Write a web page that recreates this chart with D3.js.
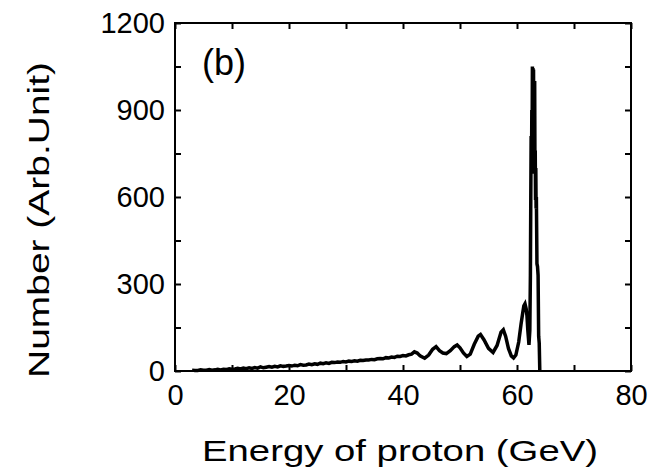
<!DOCTYPE html>
<html>
<head>
<meta charset="utf-8">
<script src="https://cdn.jsdelivr.net/npm/d3@7"></script>
<style>
  html, body { margin: 0; padding: 0; background: #fff; }
  svg { display: block; }
  text { font-family: "Liberation Sans", Arial, Helvetica, sans-serif; fill: #000; }
</style>
</head>
<body>
<svg id="chart" width="652" height="475"></svg>
<script>
// Proton energy spectrum, panel (b)
const energy = [
  3, 3.5, 4, 4.5, 5, 5.5, 6, 6.5, 7, 7.5, 8, 8.5, 9, 9.5, 10, 10.5, 11, 11.5,
  12, 12.5, 13, 13.5, 14, 14.5, 15, 15.5, 16, 16.5, 17, 17.5, 18, 18.5, 19, 19.5,
  20, 20.5, 21, 21.5, 22, 22.5, 23, 23.5, 24, 24.5, 25, 25.5, 26, 26.5, 27, 27.5,
  28, 28.5, 29, 29.5, 30, 30.5, 31, 31.5, 32, 32.5, 33, 33.5, 34, 34.5, 35, 35.5,
  36, 36.5, 37, 37.5, 38, 38.5, 39, 39.5, 40, 40.5, 41, 41.5,
  42, 42.5, 43, 43.8, 44.5, 45.2, 45.8, 46.4, 47, 47.6, 48.3, 49, 49.5, 50,
  50.6, 51.2, 51.8, 52.5, 53.2, 53.6, 54.2, 55, 55.8, 56.5, 57.2, 57.6, 58,
  58.5, 59, 59.4, 59.8, 60.3, 60.7, 61, 61.2, 61.4, 61.6, 61.75, 61.9, 62.1, 62.25,
  62.35, 62.42, 62.48, 62.55, 62.6, 62.65, 62.7, 62.75, 62.8, 62.85, 62.9, 62.95,
  63.0, 63.05, 63.1, 63.15, 63.2, 63.25, 63.3, 63.35, 63.4, 63.5, 63.6, 63.7,
  63.8, 63.9, 64.0
];
const counts = [
  3, 2, 2, 4, 3, 3, 5, 3, 4, 6, 4, 6, 5, 8, 6, 7, 9, 7,
  10, 8, 11, 9, 12, 10, 14, 11, 13, 15, 13, 16, 14, 18, 16, 17,
  19, 17, 20, 18, 22, 20, 21, 24, 22, 25, 23, 27, 25, 28, 26, 30,
  29, 31, 30, 33, 31, 34, 33, 35, 34, 37, 36, 38, 38, 40, 39, 42,
  43, 42, 46, 45, 48, 47, 51, 50, 53, 52, 56, 58,
  66, 62, 52, 44, 55, 75, 84, 70, 62, 60, 70, 84, 90, 80,
  62, 50, 58, 92, 120, 126, 108, 78, 64, 88, 134, 142, 120,
  78, 52, 45, 55, 100, 160, 200, 225, 232, 215, 190, 140, 90, 140,
  330, 600, 810, 700, 900, 760, 1050, 880, 1045, 820, 1040, 760,
  950, 680, 1000, 700, 760, 590, 700, 560, 600, 370, 360, 330,
  120, 96, 0
];

const xTicks = [0, 20, 40, 60, 80];
const xMinor = [10, 30, 50, 70];
const yTicks = [0, 300, 600, 900, 1200];
const yMinor = [150, 450, 750, 1050];

const xLabel = "Energy of proton (GeV)";
const yLabel = "Number (Arb.Unit)";
const panelTag = "(b)";

const svg = d3.select("#chart");
const plot = { left: 175, top: 23, right: 631, bottom: 371 };

const x = d3.scaleLinear().domain([0, 80]).range([plot.left, plot.right]);
const y = d3.scaleLinear().domain([0, 1200]).range([plot.bottom, plot.top]);

const tickLen = 6;

// inward ticks on all four sides
function styleAxis(g) {
  g.select(".domain").remove();
  g.selectAll(".tick line").attr("stroke", "#000").attr("stroke-width", 2);
  g.selectAll(".tick text").style("font-size", "29px");
}

const allX = xTicks.concat(xMinor);
const allY = yTicks.concat(yMinor);

svg.append("g")
  .attr("transform", `translate(0,${plot.bottom})`)
  .call(d3.axisBottom(x).tickValues(allX).tickSize(-tickLen).tickPadding(13)
    .tickFormat(d => xTicks.includes(d) ? d : ""))
  .call(styleAxis)
  .call(g => g.selectAll(".tick text").attr("dy", "0.72em"));

svg.append("g")
  .attr("transform", `translate(0,${plot.top})`)
  .call(d3.axisTop(x).tickValues(allX).tickSize(-tickLen).tickFormat(""))
  .call(styleAxis);

svg.append("g")
  .attr("transform", `translate(${plot.left},0)`)
  .call(d3.axisLeft(y).tickValues(allY).tickSize(-tickLen).tickPadding(10)
    .tickFormat(d => yTicks.includes(d) ? d : ""))
  .call(styleAxis);

svg.append("g")
  .attr("transform", `translate(${plot.right},0)`)
  .call(d3.axisRight(y).tickValues(allY).tickSize(-tickLen).tickFormat(""))
  .call(styleAxis);

// frame
svg.append("rect")
  .attr("x", plot.left).attr("y", plot.top)
  .attr("width", plot.right - plot.left).attr("height", plot.bottom - plot.top)
  .attr("fill", "none").attr("stroke", "#000").attr("stroke-width", 2);

// spectrum
const pts = energy.map((e, i) => [e, counts[i]]);
svg.append("path")
  .datum(pts)
  .attr("fill", "none")
  .attr("stroke", "#000")
  .attr("stroke-width", 3.5)
  .attr("stroke-linejoin", "miter")
  .attr("d", d3.line().x(d => x(d[0])).y(d => y(d[1])));

// labels
svg.append("text")
  .attr("x", 400).attr("y", 461)
  .attr("text-anchor", "middle")
  .style("font-size", "30px")
  .attr("textLength", 396).attr("lengthAdjust", "spacingAndGlyphs")
  .text(xLabel);

svg.append("text")
  .attr("transform", "translate(49,220) rotate(-90)")
  .attr("text-anchor", "middle")
  .style("font-size", "30px")
  .attr("textLength", 316).attr("lengthAdjust", "spacingAndGlyphs")
  .text(yLabel);

svg.append("text")
  .attr("x", 202).attr("y", 75)
  .style("font-size", "36px")
  .text(panelTag);
</script>
</body>
</html>
